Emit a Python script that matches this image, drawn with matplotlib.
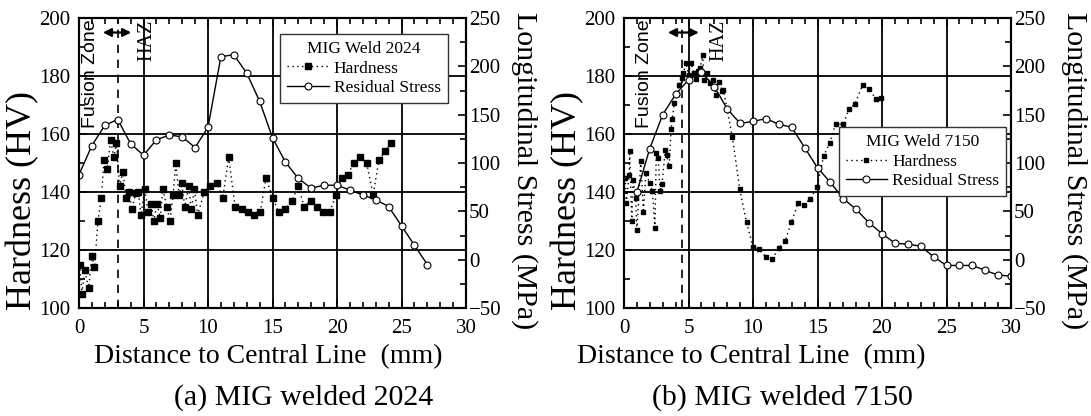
import matplotlib
matplotlib.use('Agg')
import matplotlib.pyplot as plt
from matplotlib.ticker import MultipleLocator

plt.rcParams['font.family'] = ['Liberation Serif', 'DejaVu Serif']

# (a) MIG welded 2024
x_hv_2024 = [0.05, 0.23, 0.44, 0.75, 1.0, 1.2, 1.47, 1.73, 1.94, 2.2, 2.45, 2.7, 2.9,
             3.15, 3.4, 3.65, 3.9, 4.1, 4.4, 4.6, 4.8, 5.1, 5.35, 5.6, 5.8, 6.05, 6.3,
             6.5, 6.8, 7.05, 7.3, 7.5, 7.75, 7.95, 8.2, 8.5, 8.7, 8.95, 9.2, 9.7, 10.15,
             10.7, 11.15, 11.6, 12.1, 12.6, 13.1, 13.55, 14.05, 14.5, 15.0, 15.5, 16.0,
             16.5, 17.0, 17.45, 17.95, 18.45, 18.9, 19.45, 19.9, 20.4, 20.85, 21.3,
             21.8, 22.3, 22.8, 23.25, 23.75, 24.2]
hv_2024 = [115, 105, 113, 107, 118, 114, 130, 138, 151, 148, 158, 152, 157,
           142, 147, 138, 140, 134, 139.5, 140, 132, 141, 133, 136, 130, 136, 131,
           141, 135, 130, 139, 150, 139, 143, 135, 142, 134, 141, 132, 140, 142,
           143, 138, 152, 135, 134, 133, 132, 133, 145, 138, 133, 134,
           137, 142, 135, 137, 135, 133, 133, 139, 145, 146, 150,
           152, 150, 139, 151, 154, 157]
x_rs_2024 = [0, 1, 2, 3, 4, 5, 6, 7, 8, 9, 10, 11, 12, 13, 14, 15, 16, 17, 18, 19,
             20, 21, 22, 23, 24, 25, 26, 27]
rs_2024 = [88, 118, 139, 145, 120, 108, 124, 129, 127, 116, 137, 210, 212, 193, 164,
           126, 101, 84, 74, 77, 77, 72, 67, 62, 55, 35, 15, -5]

# (b) MIG welded 7150
x_hv_7150 = [0.1, 0.18, 0.4, 0.44, 0.6, 0.7, 0.9, 1.0, 1.3, 1.5, 1.7, 2.0, 2.2, 2.4,
             2.5, 2.65, 2.8, 2.95, 3.2, 3.3, 3.5, 3.65, 3.75, 3.9, 4.1, 4.3, 4.5, 4.6,
             4.8, 5.0, 5.2, 5.4, 5.55, 5.7, 5.9, 6.1, 6.2, 6.4, 6.65, 6.9, 7.15, 7.4,
             7.6, 7.7, 8.4, 8.97, 9.5, 10.0, 10.45, 11.0, 11.5, 12.0, 12.5, 12.97,
             13.5, 13.95, 14.45, 14.96, 15.48, 15.95, 16.4, 17.0, 17.45, 17.9, 18.5,
             19.0, 19.5, 19.9]
hv_7150 = [144.8, 136.2, 146, 154, 129.9, 144.2, 138, 127, 150.6, 133, 146.5, 143,
           140.2, 127.6, 153.4, 151.7, 140.2, 142.9, 154.6, 152.8, 148.8, 161.7, 165.2,
           170.7, 173.9, 177, 179.3, 181, 184.5, 180.5, 184.5, 181, 179, 181.6, 182.7,
           187.3, 178.7, 181, 177.6, 178.7, 173.5, 178.1, 174.7, 175.3, 159, 141,
           129.5, 121, 120.3, 117.6, 117, 120.7, 123.2, 129.5, 136.2, 135.6, 137.7,
           141.6, 152.5, 156.9, 163.4, 163.4, 168.7, 170.3, 177, 175.6, 172.2, 172.4]
x_rs_7150 = [1, 2, 3, 4, 5, 6, 7, 8, 9, 10, 11, 12, 13, 14, 15, 16, 17, 18, 19, 20,
             21, 22, 23, 24, 25, 26, 27, 28, 29, 30]
rs_7150 = [70, 115, 150, 171, 186, 194, 179, 156, 141, 143, 146, 140, 137, 116, 95,
           80, 63, 52, 38, 27, 17, 16, 14, 3, -6, -6, -6, -11, -16, -17]

panels = [
    dict(xh=x_hv_2024, h=hv_2024, xs=x_rs_2024, s=rs_2024, ms=4.0, fz=3.0,
         title='MIG Weld 2024', caption='(a) MIG welded 2024',
         fz_text=0.9, arrow=(1.85, 4.05), haz=5.25,
         leg=(0.953, 0.945), left=79, rlab=1.152, xlab_x=268, cap_x=304),
    dict(xh=x_hv_7150, h=hv_7150, xs=x_rs_7150, s=rs_7150, ms=2.4, fz=4.5,
         title='MIG Weld 7150', caption='(b) MIG welded 7150',
         fz_text=1.6, arrow=(3.4, 5.8), haz=7.35,
         leg=(0.988, 0.624), left=624, rlab=1.165, xlab_x=751, cap_x=782),
]

W, H = 1091, 416
fig = plt.figure(figsize=(W / 100, H / 100), dpi=100)

for p in panels:
    ax = fig.add_axes([p['left'] / W, 1 - 308 / H, 387 / W, 290 / H])
    ax2 = ax.twinx()

    ax.set_xlim(0, 30)
    ax.set_ylim(100, 200)
    ax2.set_ylim(-50, 250)

    ax.grid(True, which='major', color='black', lw=1.3)
    ax.set_axisbelow(True)

    l1, = ax.plot(p['xh'], p['h'], ls=(0, (1, 2.5)), lw=1.0, color='black',
                  marker='s', ms=p['ms'], mfc='black', mec='black',
                  label='Hardness')
    l2, = ax2.plot(p['xs'], p['s'], ls='-', lw=1.0, color='black',
                   marker='o', ms=5, mfc='white', mec='black', mew=0.8,
                   label='Residual Stress')

    ax.axvline(p['fz'], color='black', lw=1.2, ls=(0, (5, 4)))

    ax.xaxis.set_major_locator(MultipleLocator(5))
    ax.xaxis.set_minor_locator(MultipleLocator(1))
    ax.yaxis.set_major_locator(MultipleLocator(20))
    ax.yaxis.set_minor_locator(MultipleLocator(10))
    ax2.yaxis.set_major_locator(MultipleLocator(50))
    ax2.yaxis.set_minor_locator(MultipleLocator(25))

    ax.tick_params(which='both', direction='in', top=True, right=False,
                   labelsize=15, width=1.2)
    ax.tick_params(which='major', length=6)
    ax.tick_params(which='minor', length=4)
    ax.tick_params(axis='y', pad=6)
    ax.tick_params(axis='x', pad=8)
    ax2.tick_params(which='both', direction='in', labelsize=15, width=1.2, pad=2)
    ax2.tick_params(which='major', length=6)
    ax2.tick_params(which='minor', length=4)
    for a in (ax, ax2):
        for sp in a.spines.values():
            sp.set_linewidth(1.5)

    ax.set_ylabel('Hardness (HV)', fontsize=26, rotation=90,
                  ha='center', va='center', rotation_mode='default')
    ax.yaxis.set_label_coords(-0.145, 0.369)
    ax2.set_ylabel('Longitudinal Stress (MPa)', fontsize=21.5, rotation=270,
                   ha='center', va='center', rotation_mode='default')
    ax2.yaxis.set_label_coords(p['rlab'], 0.472)

    fig.text(p['xlab_x'] / W, 1 - 357 / H, 'Distance to Central Line  (mm)',
             fontsize=20, ha='center', va='center')
    fig.text(p['cap_x'] / W, 1 - 398 / H, p['caption'], fontsize=21.5,
             ha='center', va='center')

    # zone annotations
    ax.text(p['fz_text'], 199.5, 'Fusion Zone', rotation=90, ha='center', va='top',
            fontsize=14, family='Liberation Sans')
    ax.text(p['haz'], 199.5, 'HAZ', rotation=90, ha='center', va='top',
            fontsize=14.5)
    ax.annotate('', xy=(p['arrow'][0], 195), xytext=(p['arrow'][1], 195),
                arrowprops=dict(arrowstyle='<|-|>', color='black', lw=1.6,
                                mutation_scale=12, shrinkA=0, shrinkB=0))

    leg = ax2.legend([l1, l2], ['Hardness', 'Residual Stress'], title=p['title'],
                     loc='upper right', bbox_to_anchor=p['leg'], fontsize=12.5,
                     title_fontsize=12.5, frameon=True, fancybox=False,
                     framealpha=1, edgecolor='#333333', handlelength=2.4,
                     handletextpad=0.3, borderpad=0.4, labelspacing=0.2,
                     borderaxespad=0)
    leg.get_frame().set_linewidth(1.0)

fig.savefig('out.png', dpi=100)
